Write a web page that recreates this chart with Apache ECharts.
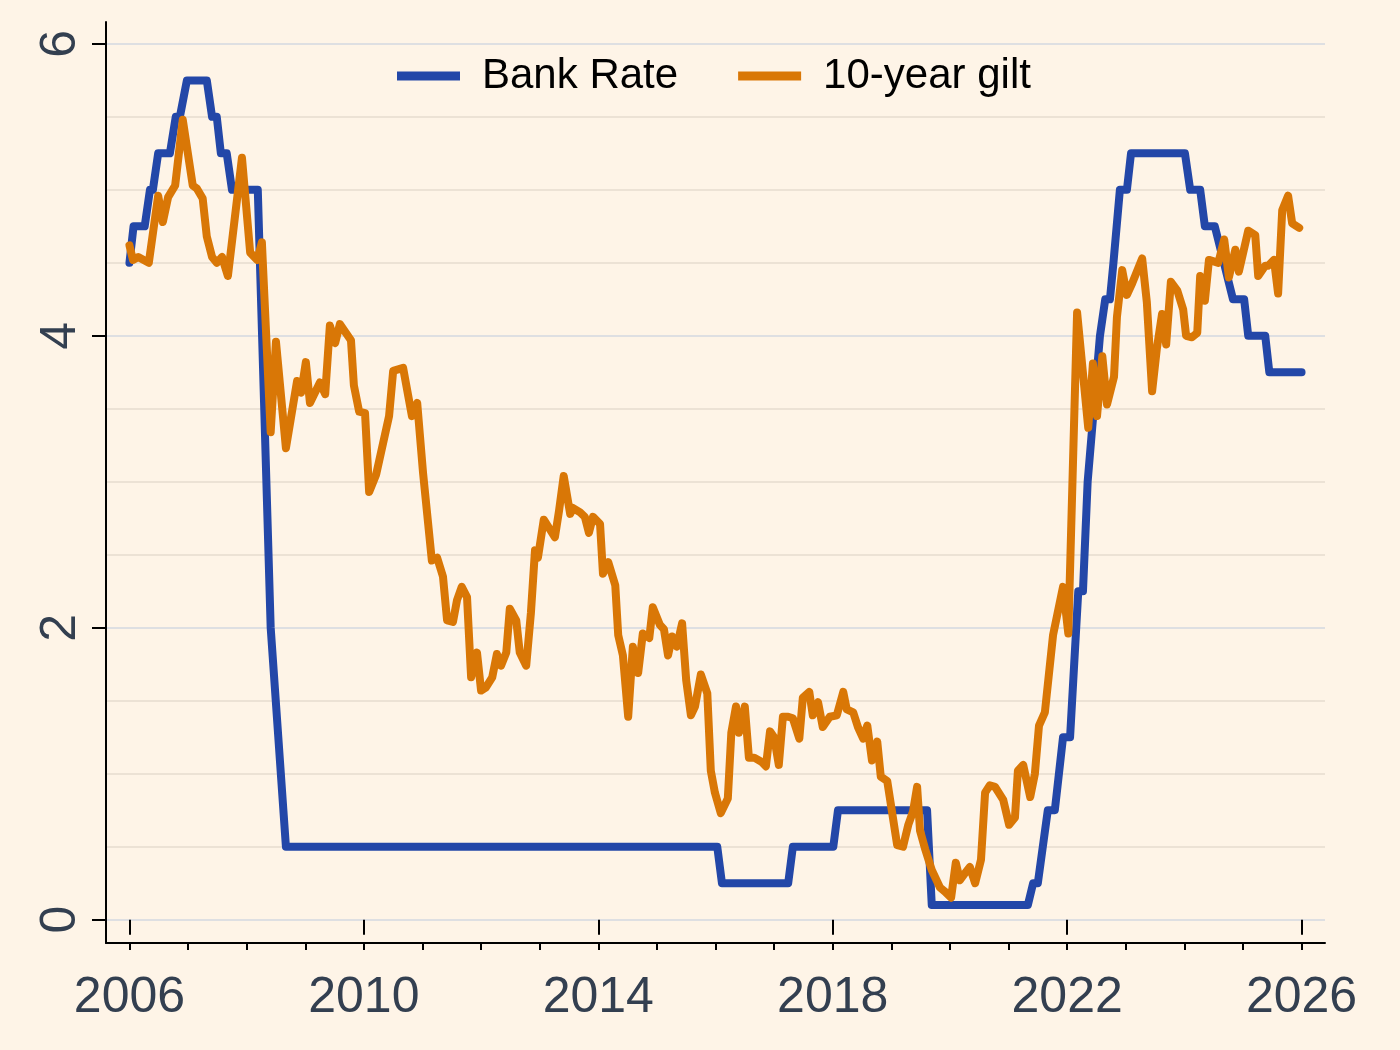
<!DOCTYPE html>
<html>
<head>
<meta charset="utf-8">
<script src="https://cdn.jsdelivr.net/npm/echarts@6/dist/echarts.min.js"></script>
<style>
  html, body { margin: 0; padding: 0; background: #fef4e7; }
  #chart { width: 1400px; height: 1050px; }
</style>
</head>
<body>
<div id="chart"></div>
<script>
// Bank Rate (step vertices: decimal year, percent)
const bankYears = [2006.00, 2006.07, 2006.26, 2006.35, 2006.40, 2006.49, 2006.69, 2006.79, 2006.86, 2006.98,
  2007.32, 2007.41, 2007.49, 2007.56, 2007.66, 2007.75, 2008.19, 2008.41, 2008.67, 2016.03,
  2016.11, 2017.24, 2017.32, 2018.01, 2018.09, 2019.61, 2019.69, 2021.33, 2021.42, 2021.50,
  2021.67, 2021.79, 2021.93, 2022.05, 2022.19, 2022.27, 2022.35, 2022.56, 2022.65, 2022.73,
  2022.79, 2022.90, 2023.02, 2023.09, 2024.01, 2024.10, 2024.27, 2024.35, 2024.52, 2024.83,
  2025.02, 2025.09, 2025.38, 2025.45, 2026.00];
const bankValues = [4.5, 4.75, 4.75, 5.0, 5.0, 5.25, 5.25, 5.5, 5.5, 5.75,
  5.75, 5.5, 5.5, 5.25, 5.25, 5.0, 5.0, 2.0, 0.5, 0.5,
  0.25, 0.25, 0.5, 0.5, 0.75, 0.75, 0.1, 0.1, 0.25, 0.25,
  0.75, 0.75, 1.25, 1.25, 2.25, 2.25, 3.0, 4.0, 4.25, 4.25,
  4.5, 5.0, 5.0, 5.25, 5.25, 5.0, 5.0, 4.75, 4.75, 4.25,
  4.25, 4.0, 4.0, 3.75, 3.75];

// 10-year gilt yield (decimal year, percent)
const giltYears = [2006.00, 2006.06, 2006.15, 2006.33, 2006.49, 2006.57, 2006.66, 2006.78, 2006.91, 2007.08,
  2007.15, 2007.25, 2007.32, 2007.41, 2007.49, 2007.58, 2007.68, 2007.92, 2008.06, 2008.18,
  2008.26, 2008.41, 2008.50, 2008.67, 2008.86, 2008.93, 2009.01, 2009.08, 2009.25, 2009.34,
  2009.42, 2009.51, 2009.59, 2009.78, 2009.83, 2009.92, 2010.02, 2010.09, 2010.21, 2010.43,
  2010.50, 2010.67, 2010.82, 2010.91, 2011.01, 2011.16, 2011.25, 2011.35, 2011.42, 2011.52,
  2011.59, 2011.67, 2011.76, 2011.83, 2011.93, 2012.00, 2012.08, 2012.19, 2012.27, 2012.34,
  2012.43, 2012.49, 2012.60, 2012.66, 2012.77, 2012.85, 2012.92, 2012.97, 2013.07, 2013.18,
  2013.26, 2013.33, 2013.41, 2013.52, 2013.57, 2013.69, 2013.77, 2013.84, 2013.91, 2014.03,
  2014.08, 2014.17, 2014.29, 2014.34, 2014.42, 2014.51, 2014.59, 2014.68, 2014.76, 2014.87,
  2014.93, 2015.05, 2015.12, 2015.19, 2015.26, 2015.34, 2015.43, 2015.50, 2015.58, 2015.65,
  2015.75, 2015.86, 2015.92, 2015.99, 2016.09, 2016.21, 2016.27, 2016.35, 2016.40, 2016.50,
  2016.57, 2016.66, 2016.79, 2016.86, 2016.93, 2017.00, 2017.08, 2017.15, 2017.24, 2017.32,
  2017.43, 2017.49, 2017.60, 2017.66, 2017.75, 2017.83, 2017.95, 2018.07, 2018.18, 2018.24,
  2018.35, 2018.43, 2018.52, 2018.59, 2018.67, 2018.76, 2018.82, 2018.93, 2019.10, 2019.20,
  2019.29, 2019.37, 2019.44, 2019.49, 2019.58, 2019.69, 2019.83, 2019.92, 2020.02, 2020.10,
  2020.17, 2020.26, 2020.34, 2020.43, 2020.53, 2020.60, 2020.68, 2020.77, 2020.91, 2021.01,
  2021.11, 2021.16, 2021.25, 2021.37, 2021.45, 2021.52, 2021.62, 2021.76, 2021.93, 2022.02,
  2022.17, 2022.36, 2022.44, 2022.51, 2022.60, 2022.68, 2022.80, 2022.85, 2022.94, 2023.02,
  2023.11, 2023.28, 2023.36, 2023.45, 2023.53, 2023.62, 2023.69, 2023.77, 2023.88, 2023.98,
  2024.03, 2024.13, 2024.22, 2024.27, 2024.35, 2024.42, 2024.58, 2024.68, 2024.76, 2024.87,
  2024.93, 2025.09, 2025.21, 2025.26, 2025.38, 2025.43, 2025.53, 2025.60, 2025.67, 2025.77,
  2025.84, 2025.96];
const giltValues = [4.62, 4.52, 4.54, 4.50, 4.96, 4.78, 4.95, 5.03, 5.48, 5.03,
  5.01, 4.94, 4.68, 4.54, 4.50, 4.54, 4.41, 5.22, 4.57, 4.52,
  4.64, 3.34, 3.96, 3.23, 3.69, 3.61, 3.82, 3.54, 3.68, 3.60,
  4.07, 3.95, 4.08, 3.97, 3.66, 3.48, 3.47, 2.93, 3.05, 3.45,
  3.76, 3.78, 3.45, 3.54, 3.06, 2.46, 2.48, 2.35, 2.05, 2.04,
  2.19, 2.28, 2.21, 1.66, 1.83, 1.57, 1.59, 1.66, 1.82, 1.74,
  1.83, 2.13, 2.05, 1.83, 1.74, 2.10, 2.53, 2.48, 2.74, 2.67,
  2.62, 2.80, 3.04, 2.78, 2.82, 2.79, 2.76, 2.65, 2.76, 2.71,
  2.37, 2.45, 2.29, 1.95, 1.81, 1.39, 1.87, 1.69, 1.96, 1.93,
  2.14, 2.02, 1.99, 1.81, 1.94, 1.87, 2.03, 1.64, 1.40, 1.46,
  1.68, 1.55, 1.02, 0.87, 0.73, 0.83, 1.28, 1.46, 1.28, 1.46,
  1.11, 1.11, 1.08, 1.05, 1.29, 1.25, 1.06, 1.39, 1.39, 1.38,
  1.24, 1.52, 1.56, 1.40, 1.49, 1.32, 1.39, 1.40, 1.56, 1.44,
  1.42, 1.32, 1.24, 1.33, 1.09, 1.22, 0.98, 0.95, 0.51, 0.50,
  0.65, 0.74, 0.91, 0.61, 0.48, 0.34, 0.22, 0.19, 0.15, 0.39,
  0.27, 0.32, 0.36, 0.25, 0.41, 0.87, 0.92, 0.91, 0.82, 0.65,
  0.70, 1.02, 1.06, 0.84, 1.00, 1.33, 1.42, 1.95, 2.28, 1.96,
  4.16, 3.37, 3.81, 3.45, 3.86, 3.53, 3.72, 4.13, 4.45, 4.28,
  4.36, 4.53, 4.23, 3.62, 3.91, 4.15, 3.94, 4.37, 4.31, 4.18,
  4.00, 3.99, 4.02, 4.41, 4.24, 4.52, 4.50, 4.66, 4.40, 4.59,
  4.44, 4.72, 4.69, 4.41, 4.48, 4.48, 4.52, 4.29, 4.86, 4.96,
  4.77, 4.74];

// Axis ticks and labels
const xMajorTicks = [2006, 2010, 2014, 2018, 2022, 2026];
const xMinorTicks = [2006, 2007, 2008, 2009, 2010, 2011, 2012, 2013, 2014, 2015, 2016,
  2017, 2018, 2019, 2020, 2021, 2022, 2023, 2024, 2025, 2026];
const yLabelTicks = [0, 2, 4, 6];
const yGridValues = [0, 0.5, 1, 1.5, 2, 2.5, 3, 3.5, 4, 4.5, 5, 5.5, 6];

const bankData = bankYears.map((y, i) => [y, bankValues[i]]);
const giltData = giltYears.map((y, i) => [y, giltValues[i]]);

const FONT = 'Liberation Sans, Arial, sans-serif';
const LABEL_COLOR = '#333f50';
const BLUE = '#2347a8';
const ORANGE = '#d97706';
const MAJOR_GRID = '#d3d8e1';
const MINOR_GRID = '#e6dccf';

const chart = echarts.init(document.getElementById('chart'), null, { renderer: 'canvas' });
chart.setOption({
  backgroundColor: '#fef4e7',
  animation: false,
  textStyle: { fontFamily: FONT },
  grid: { left: 106, right: 75, top: 22, bottom: 107, containLabel: false },
  legend: {
    left: 392, top: 50,
    icon: 'rect', itemWidth: 63, itemHeight: 9, itemGap: 60,
    textStyle: { fontSize: 42, color: '#000', fontFamily: FONT, padding: [0, 0, 0, 17] },
    data: ['Bank Rate', '10-year gilt']
  },
  xAxis: [{
    type: 'value', min: 2005.6, max: 2026.4, position: 'bottom',
    axisLine: { show: true, onZero: false, lineStyle: { color: '#000', width: 2 } },
    axisTick: { show: true, customValues: xMinorTicks, length: 7, lineStyle: { color: '#000', width: 2 } },
    axisLabel: { show: true, customValues: xMajorTicks, margin: 30, fontSize: 50, color: LABEL_COLOR, fontFamily: FONT,
      formatter: v => String(Math.round(v)) },
    splitLine: { show: false }
  }, {
    type: 'value', min: 2005.6, max: 2026.4, position: 'bottom', offset: 0,
    axisLine: { show: false },
    axisTick: { show: true, customValues: xMajorTicks, length: 15, lineStyle: { color: '#000', width: 2 } },
    axisLabel: { show: false },
    splitLine: { show: false }
  }],
  yAxis: [{
    type: 'value', min: -0.16, max: 6.15, position: 'left',
    axisLine: { show: true, onZero: false, lineStyle: { color: '#000', width: 2 } },
    axisTick: { show: false, customValues: yGridValues },
    axisLabel: { show: true, customValues: yLabelTicks, rotate: 90, margin: 20, fontSize: 50, color: LABEL_COLOR, fontFamily: FONT },
    splitLine: { show: true, lineStyle: { width: 1.5, color: [MAJOR_GRID, MINOR_GRID, MINOR_GRID, MINOR_GRID] } }
  }, {
    type: 'value', min: -0.16, max: 6.15, position: 'left', offset: 0,
    axisLine: { show: false },
    axisTick: { show: true, customValues: yLabelTicks, length: 14, lineStyle: { color: '#000', width: 2 } },
    axisLabel: { show: false },
    splitLine: { show: false }
  }],
  series: [{
    name: 'Bank Rate', type: 'line', xAxisIndex: 0, yAxisIndex: 0,
    data: bankData, showSymbol: false, symbol: 'none',
    itemStyle: { color: BLUE },
    lineStyle: { color: BLUE, width: 8, join: 'round', cap: 'round' },
    z: 3
  }, {
    name: '10-year gilt', type: 'line', xAxisIndex: 0, yAxisIndex: 0,
    data: giltData, showSymbol: false, symbol: 'none',
    itemStyle: { color: ORANGE },
    lineStyle: { color: ORANGE, width: 8, join: 'round', cap: 'round' },
    z: 4
  }]
});
</script>
</body>
</html>
